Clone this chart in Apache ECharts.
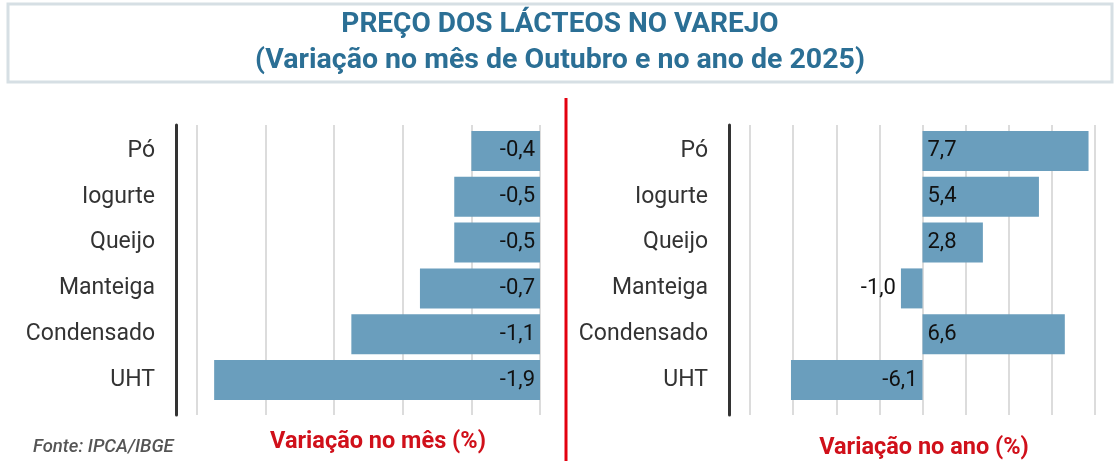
<!DOCTYPE html>
<html>
<head>
<meta charset="utf-8">
<script src="https://cdn.jsdelivr.net/npm/echarts@6/dist/echarts.min.js"></script>
<style>
  html, body { margin: 0; padding: 0; background: #fff; }
  #chart { width: 1120px; height: 469px; }
</style>
</head>
<body>
<div id="chart"></div>
<script>
const categories = ['Pó', 'Iogurte', 'Queijo', 'Manteiga', 'Condensado', 'UHT'];
const monthValues = [-0.4, -0.5, -0.5, -0.7, -1.1, -1.9];
const yearValues = [7.7, 5.4, 2.8, -1.0, 6.6, -6.1];
const monthTicks = [-2, 0, 0.4];   // min, max, interval
const yearTicks = [-8, 8, 2];

const BAR = '#6a9ebd';
const FONT = 'Roboto, "Noto Sans", sans-serif';

const fmt = v => v.toFixed(1).replace('.', ',');

// grid pairs: one for the gridlines + dark axis line, one for the bars
const frameGrid = (left, right) => ({ left: left, right: right, top: 125, bottom: 54 });
const barGrid = (left, right) => ({ left: left, right: right, top: 128, bottom: 66 });

function frameAxes(idx, ticks) {
    return {
        x: {
            type: 'value', gridIndex: idx, min: ticks[0], max: ticks[1], interval: ticks[2],
            axisLabel: { show: false }, axisLine: { show: false }, axisTick: { show: false },
            splitLine: { show: true, lineStyle: { color: '#dcdcdc', width: 2 } }
        },
        y: {
            type: 'category', gridIndex: idx, data: categories, offset: 21,
            axisLabel: { show: false }, axisTick: { show: false },
            axisLine: { show: true, onZero: false, lineStyle: { color: '#333', width: 3 } },
            splitLine: { show: false }
        }
    };
}

function barAxes(idx, ticks) {
    return {
        x: {
            type: 'value', gridIndex: idx, min: ticks[0], max: ticks[1], interval: ticks[2],
            show: false, splitLine: { show: false }
        },
        y: {
            type: 'category', gridIndex: idx, data: categories, inverse: true,
            axisLine: { show: false, onZero: false }, axisTick: { show: false },
            axisLabel: { margin: 42, fontFamily: FONT, fontSize: 23, color: '#333' }
        }
    };
}

const f0 = frameAxes(0, monthTicks), b1 = barAxes(1, monthTicks);
const f2 = frameAxes(2, yearTicks), b3 = barAxes(3, yearTicks);

const monthData = monthValues.map(v => ({ value: v, label: { position: 'insideRight' } }));
const yearData = yearValues.map(v => ({
    value: v,
    label: { position: v >= 0 ? 'insideLeft' : (v > -2 ? 'left' : 'insideRight') }
}));

const valueLabel = {
    show: true, fontFamily: FONT, fontSize: 22, color: '#111', distance: 5,
    formatter: p => fmt(p.value)
};

const option = {
    animation: false,
    grid: [frameGrid(197, 580), barGrid(197, 580), frameGrid(750, 25), barGrid(750, 25)],
    xAxis: [f0.x, b1.x, f2.x, b3.x],
    yAxis: [f0.y, b1.y, f2.y, b3.y],
    series: [
        {
            type: 'bar', xAxisIndex: 1, yAxisIndex: 1, data: monthData, barWidth: 40,
            itemStyle: { color: BAR }, label: valueLabel
        },
        {
            type: 'bar', xAxisIndex: 3, yAxisIndex: 3, data: yearData, barWidth: 40,
            itemStyle: { color: BAR }, label: valueLabel
        }
    ],
    graphic: [
        {
            type: 'rect', z: -1, shape: { x: 8, y: 4, width: 1104, height: 78 },
            style: { fill: '#fff', stroke: '#d6dfe4', lineWidth: 3 }
        },
        {
            type: 'text', x: 560, y: 25,
            style: { text: 'PREÇO DOS LÁCTEOS NO VAREJO', align: 'center', verticalAlign: 'middle',
                     font: 'bold 28px ' + FONT, fill: '#2b6f95' }
        },
        {
            type: 'text', x: 560, y: 61,
            style: { text: '(Variação no mês de Outubro e no ano de 2025)', align: 'center', verticalAlign: 'middle',
                     font: 'bold 28.5px ' + FONT, fill: '#2b6f95' }
        },
        {
            type: 'line', shape: { x1: 566, y1: 98, x2: 566, y2: 461 },
            style: { stroke: '#e3000f', lineWidth: 3 }
        },
        {
            type: 'text', x: 378, y: 442,
            style: { text: 'Variação no mês (%)', align: 'center', verticalAlign: 'middle',
                     font: 'bold 23.5px ' + FONT, fill: '#d0101a' }
        },
        {
            type: 'text', x: 924, y: 448,
            style: { text: 'Variação no ano (%)', align: 'center', verticalAlign: 'middle',
                     font: 'bold 23.5px ' + FONT, fill: '#d0101a' }
        },
        {
            type: 'text', x: 33, y: 447,
            style: { text: 'Fonte: IPCA/IBGE', align: 'left', verticalAlign: 'middle',
                     font: 'italic 500 18.5px ' + FONT, fill: '#555' }
        }
    ]
};

const chart = echarts.init(document.getElementById('chart'));
chart.setOption(option);
</script>
</body>
</html>
